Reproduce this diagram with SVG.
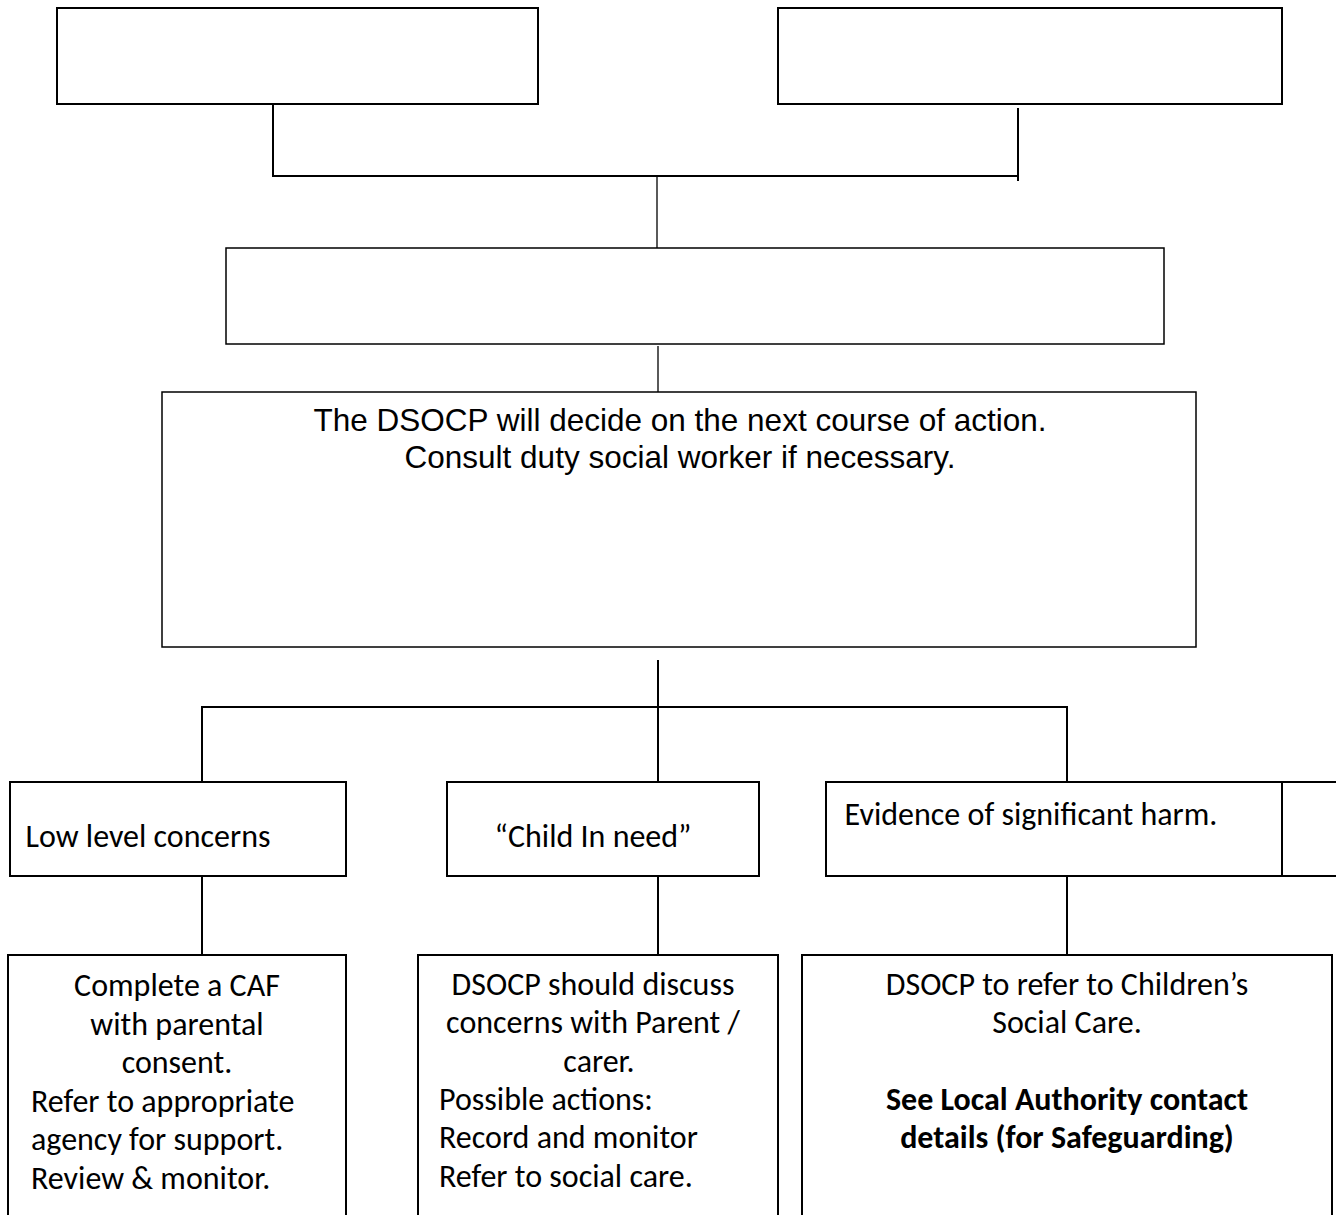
<svg xmlns="http://www.w3.org/2000/svg" width="1336" height="1215" viewBox="0 0 1336 1215">
<style>
.box{fill:#fff;stroke:#000;stroke-width:2}
.thin{fill:#fff;stroke:#000;stroke-width:1.5}
.ln{fill:none;stroke:#000;stroke-width:2}
.lt{fill:none;stroke:#000;stroke-width:1.3}
.ar{font-family:"Liberation Sans",Arial,sans-serif;font-size:31.5px;fill:#000}
.cb{font-family:Carlito,Calibri,Lato,"Open Sans",sans-serif;font-size:32px;fill:#000}
.b{font-weight:bold}
.m{text-anchor:middle}
</style>
<rect width="1336" height="1215" fill="#fff"/>
<g id="connectors">
<path class="ln" d="M273 104V176H1018"/>
<path class="ln" d="M1018 108V181"/>
<path class="lt" d="M657 176V248"/>
<path class="lt" d="M658 346V402"/>
<path class="ln" d="M658 660V782"/>
<path class="ln" d="M202 782V707H1067V782"/>
<path class="ln" d="M202 876V955"/>
<path class="ln" d="M658 876V955"/>
<path class="ln" d="M1067 876V955"/>
</g>
<g id="top-left"><rect class="box" x="57" y="8" width="481" height="96"/></g>
<g id="top-right"><rect class="box" x="778" y="8" width="504" height="96"/></g>
<g id="middle"><rect class="thin" x="226" y="248" width="938" height="96"/></g>
<g id="decide">
<rect class="thin" x="162" y="392" width="1034" height="255"/>
<text class="ar m" x="680" y="431">The DSOCP will decide on the next course of action.</text>
<text class="ar m" x="680" y="468">Consult duty social worker if necessary.</text>
</g>
<g id="low"><rect class="box" x="10" y="782" width="336" height="94"/>
<text class="cb m" x="148" y="847">Low level concerns</text></g>
<g id="cin"><rect class="box" x="447" y="782" width="312" height="94"/>
<text class="cb m" x="593" y="847">“Child In need”</text></g>
<g id="harm"><rect class="box" x="826" y="782" width="456" height="94"/>
<path class="ln" d="M1282 782H1337M1282 876H1337"/>
<text class="cb m" x="1031" y="825">Evidence of significant harm.</text></g>
<g id="caf"><path class="box" d="M8 1216V955H346V1216"/>
<text class="cb m" x="177" y="996">Complete a CAF</text>
<text class="cb m" x="177" y="1034.5">with parental</text>
<text class="cb m" x="177" y="1073">consent.</text>
<text class="cb" x="31" y="1111.5">Refer to appropriate</text>
<text class="cb" x="31" y="1150">agency for support.</text>
<text class="cb" x="31" y="1188.5">Review &amp; monitor.</text></g>
<g id="discuss"><path class="box" d="M418 1216V955H778V1216"/>
<text class="cb m" x="593" y="995">DSOCP should discuss</text>
<text class="cb m" x="593" y="1033">concerns with Parent /</text>
<text class="cb m" x="599" y="1071.5">carer.</text>
<text class="cb" x="439" y="1110">Possible actions:</text>
<text class="cb" x="439" y="1148">Record and monitor</text>
<text class="cb" x="439" y="1186.5">Refer to social care.</text></g>
<g id="refer"><path class="box" d="M802 1216V955H1332V1216"/>
<text class="cb m" x="1067" y="995">DSOCP to refer to Children’s</text>
<text class="cb m" x="1067" y="1033">Social Care.</text>
<text class="cb b m" x="1067" y="1110">See Local Authority contact</text>
<text class="cb b m" x="1067" y="1148">details (for Safeguarding)</text></g>
</svg>
